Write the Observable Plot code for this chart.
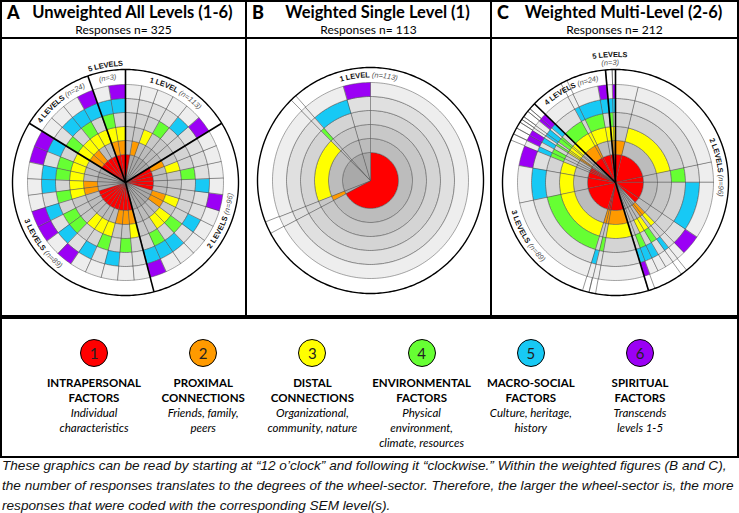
<!DOCTYPE html>
<html>
<head>
<meta charset="utf-8">
<script src="https://cdn.jsdelivr.net/npm/d3@7"></script>
<script src="https://cdn.jsdelivr.net/npm/@observablehq/plot@0.6"></script>
<style>
html,body{margin:0;padding:0;background:#fff;}
#root{position:relative;width:739px;height:513px;overflow:hidden;font-family:Lato,"Open Sans",sans-serif;color:#000;}
.panel{position:absolute;top:0;height:317px;border:2px solid #000;box-sizing:border-box;}
.hdr{position:absolute;left:0;right:0;top:0;height:35px;border-bottom:2px solid #000;}
.letter{position:absolute;left:5px;top:-1px;font-weight:900;font-size:18px;}
.title{position:absolute;left:18px;right:0;top:0px;text-align:center;font-weight:700;font-size:16.5px;}
.resp{position:absolute;left:0;right:0;top:20px;text-align:center;font-size:12px;}
.chart{position:absolute;top:35px;}
#legend{position:absolute;left:0;top:317px;width:739px;height:141px;border:2px solid #000;box-sizing:border-box;}
.item{position:absolute;top:0;width:140px;text-align:center;font-size:11.5px;line-height:15px;}
.circ{position:absolute;top:20px;width:26px;height:26px;border:1px solid #000;border-radius:50%;left:56px;font-size:15px;line-height:26px;color:#222;}
.lt{position:absolute;top:56px;left:0;right:0;font-weight:700;}
.ld{font-style:italic;font-weight:400;}
#caption{position:absolute;left:2px;top:456px;font-family:"Liberation Sans",Arial,sans-serif;font-style:italic;font-size:13.6px;line-height:20px;color:#111;white-space:nowrap;}
</style>
</head>
<body>
<div id="root"></div>
<script>
// ---------------- DATA ----------------
const levelIds = [1, 2, 3, 4, 5, 6];
const levelColors = ["#ff0000", "#ff9a00", "#ffff00", "#66ff33", "#17c9f5", "#9b00f5"];
const levelTitles = [["INTRAPERSONAL", "FACTORS"], ["PROXIMAL", "CONNECTIONS"], ["DISTAL", "CONNECTIONS"], ["ENVIRONMENTAL", "FACTORS"], ["MACRO-SOCIAL", "FACTORS"], ["SPIRITUAL", "FACTORS"]];
const levelDescs = [["Individual", "characteristics"], ["Friends, family,", "peers"], ["Organizational,", "community, nature"], ["Physical", "environment,", "climate, resources"], ["Culture, heritage,", "history"], ["Transcends", "levels 1-5"]];

// combinations of SEM levels coded in responses (clockwise from 12 o'clock)
const combos = [
  "1", "2", "3", "4", "5", "6",
  "12", "13", "14", "15", "16", "23", "25", "34", "35", "45", "56",
  "123", "124", "125", "134", "135", "136", "145", "146", "156", "234", "235", "345", "346", "356",
  "1234", "1235", "1345", "1356",
  "12345", "12356"
];
// number of responses per combination
const comboCounts = [
  76, 2, 21, 1, 8, 5,
  8, 38, 7, 20, 7, 3, 2, 3, 3, 3, 2,
  16, 2, 2, 36, 13, 7, 2, 2, 2, 1, 1, 2, 1, 2,
  10, 2, 9, 3,
  2, 1
];
const groupNames = ["1 LEVEL", "2 LEVELS", "3 LEVELS", "4 LEVELS", "5 LEVELS"];
const groupN = [113, 96, 89, 24, 3];

const panelLetters = ["A", "B", "C"];
const panelTitles = ["Unweighted All Levels (1-6)", "Weighted Single Level (1)", "Weighted Multi-Level (2-6)"];
const panelN = [325, 113, 212];

const captionLines = [
  "These graphics can be read by starting at \u201c12 o\u2019clock\u201d and following it \u201cclockwise.\u201d Within the weighted figures (B and C),",
  "the number of responses translates to the degrees of the wheel-sector. Therefore, the larger the wheel-sector is, the more",
  "responses that were coded with the corresponding SEM level(s)."
];

// ---------------- LAYOUT / STYLE ----------------
const ringEdges = [0, 28, 42, 56, 70, 84, 98];
const ringGrays = ["#a9a9a9", "#bcbcbc", "#c8c8c8", "#d4d4d4", "#e0e0e0", "#eeeeee"];
const outerR = 113;
const panelBoxes = [{left: 0, width: 247}, {left: 245, width: 247}, {left: 490, width: 249}];
const svgH = 280;

const root = document.getElementById("root");
const rad = Math.PI / 180;
const ctx = document.createElement("canvas").getContext("2d");
const LF = "'Liberation Sans', Arial, sans-serif";

function polar(a, r) { return {x: r * Math.sin(a * rad), y: r * Math.cos(a * rad)}; }
function norm(a) { return ((a % 360) + 360) % 360; }

function arcText(parts, center, r, fs) {
  const fonts = {main: `bold ${fs}px ${LF}`, n: `italic ${fs}px ${LF}`};
  const chars = []; let total = 0;
  for (const p of parts) {
    ctx.font = fonts[p.style];
    for (const ch of p.text) { const w = ctx.measureText(ch).width; chars.push({ch, style: p.style, off: total + w / 2}); total += w; }
  }
  const c = norm(center);
  const flip = c > 90 && c < 270;
  const span = total / r / rad;
  return chars.map(d => {
    const a = flip ? center + span / 2 - d.off / r / rad : center - span / 2 + d.off / r / rad;
    const p = polar(a, r);
    return {...d, x: p.x, y: p.y, rot: flip ? a + 180 : a};
  });
}

function buildWheel(idx, items, opts) {
  const total = d3.sum(items, d => d.w);
  let acc = 0;
  const sectors = items.map(d => { const a0 = acc / total * 360; acc += d.w; return {...d, a0, a1: acc / total * 360}; });
  const cells = [];
  sectors.forEach((s, i) => {
    for (let k = 1; k <= 6; k++) {
      const r0 = ringEdges[k - 1], r1 = ringEdges[k];
      const fill = s.combo.includes(String(k)) ? levelColors[k - 1] : ringGrays[k - 1];
      const id = `${i}-${k}`;
      const n = Math.max(2, Math.ceil((s.a1 - s.a0) / 1.5) + 1);
      for (let j = 0; j < n; j++) cells.push({id, fill, ...polar(s.a0 + (s.a1 - s.a0) * j / (n - 1), r1)});
      if (r0 > 0) for (let j = n - 1; j >= 0; j--) cells.push({id, fill, ...polar(s.a0 + (s.a1 - s.a0) * j / (n - 1), r0)});
      else cells.push({id, fill, x: 0, y: 0});
    }
  });
  // thin extension lines for very narrow weighted sectors
  const ext = [];
  if (opts.extend) sectors.forEach(s => { if (s.w <= opts.extend) { ext.push({a: s.a0}); ext.push({a: s.a1}); } });
  const extLines = ext.map(e => ({p0: polar(e.a, ringEdges[6]), p1: polar(e.a, outerR)}));
  // groups
  const groups = d3.groups(sectors, d => d.g).map(([g, arr]) => ({g, a0: arr[0].a0, a1: arr[arr.length - 1].a1}));
  const seps = groups.length > 1 ? groups.map(g => ({...polar(g.a0, outerR)})) : [];
  const circle = d3.range(0, 360, 1).map(a => polar(a, outerR));
  let chars = [];
  groups.forEach(gr => {
    const mid = opts.labelAngle != null ? opts.labelAngle : (gr.a0 + gr.a1) / 2;
    const name = groupNames[gr.g - 1], nt = `(n=${groupN[gr.g - 1]})`;
    if (gr.g === 5) {
      chars = chars.concat(arcText([{text: name, style: "main"}], mid, opts.r5[0], 7.5));
      chars = chars.concat(arcText([{text: nt, style: "n"}], mid, opts.r5[1], 7.5));
    } else {
      chars = chars.concat(arcText([{text: name + " ", style: "main"}, {text: nt, style: "n"}], mid, 105.5, 7.5));
    }
  });
  const box = panelBoxes[idx];
  const w = box.width - 4;
  const cx = opts.cx - box.left - 2, cy = opts.cy - 35;
  return Plot.plot({
    width: w, height: svgH, margin: 0,
    style: {background: "transparent", fontFamily: LF},
    x: {domain: [-cx, w - cx], axis: null},
    y: {domain: [-(svgH - cy), cy], axis: null},
    color: {type: "identity"},
    marks: [
      Plot.line(cells, {x: "x", y: "y", z: "id", fill: "fill", stroke: "#505050", strokeWidth: 0.5, curve: "linear-closed"}),
      Plot.link(extLines, {x1: d => d.p0.x, y1: d => d.p0.y, x2: d => d.p1.x, y2: d => d.p1.y, stroke: "#505050", strokeWidth: 0.6}),
      Plot.line(circle, {x: "x", y: "y", stroke: "#000", strokeWidth: 1.4, curve: "linear-closed"}),
      Plot.link(seps, {x1: () => 0, y1: () => 0, x2: "x", y2: "y", stroke: "#000", strokeWidth: 1.6}),
      Plot.text(chars.filter(d => d.style === "main"), {x: "x", y: "y", text: "ch", rotate: "rot", fontSize: 7.5, fontWeight: "bold", fill: "#111", textAnchor: "middle", lineAnchor: "middle"}),
      Plot.text(chars.filter(d => d.style === "n"), {x: "x", y: "y", text: "ch", rotate: "rot", fontSize: 7.5, fontStyle: "italic", fill: "#555", textAnchor: "middle", lineAnchor: "middle"})
    ]
  });
}

// panels
const allItems = combos.map((c, i) => ({combo: c, g: c.length, count: comboCounts[i]}));
const panelItems = [
  allItems.map(d => ({...d, w: 1})),
  allItems.filter(d => d.g === 1).map(d => ({...d, w: d.count})),
  allItems.filter(d => d.g > 1).map(d => ({...d, w: d.count}))
];
const panelOpts = [
  {cx: 125, cy: 180, r5: [119, 106]},
  {cx: 370, cy: 178, labelAngle: -1, extend: 2},
  {cx: 615, cy: 180, r5: [128, 120], extend: 2}
];

panelBoxes.forEach((b, i) => {
  const p = document.createElement("div");
  p.className = "panel";
  p.style.left = b.left + "px"; p.style.width = b.width + "px";
  p.innerHTML = `<div class="hdr"><div class="letter">${panelLetters[i]}</div><div class="title">${panelTitles[i]}</div><div class="resp">Responses n= ${panelN[i]}</div></div>`;
  const c = document.createElement("div");
  c.className = "chart"; c.style.left = "0px";
  c.appendChild(buildWheel(i, panelItems[i], panelOpts[i]));
  p.appendChild(c);
  root.appendChild(p);
});

// legend
const leg = document.createElement("div");
leg.id = "legend";
levelIds.forEach((lv, i) => {
  const it = document.createElement("div");
  it.className = "item";
  it.style.left = (94 + i * 109.2 - 70 - 2) + "px";
  it.innerHTML = `<div class="circ" style="background:${levelColors[i]}">${lv}</div>
    <div class="lt">${levelTitles[i].join("<br>")}<div class="ld">${levelDescs[i].join("<br>")}</div></div>`;
  leg.appendChild(it);
});
root.appendChild(leg);

const cap = document.createElement("div");
cap.id = "caption";
cap.innerHTML = captionLines.join("<br>");
root.appendChild(cap);
</script>
</body>
</html>
